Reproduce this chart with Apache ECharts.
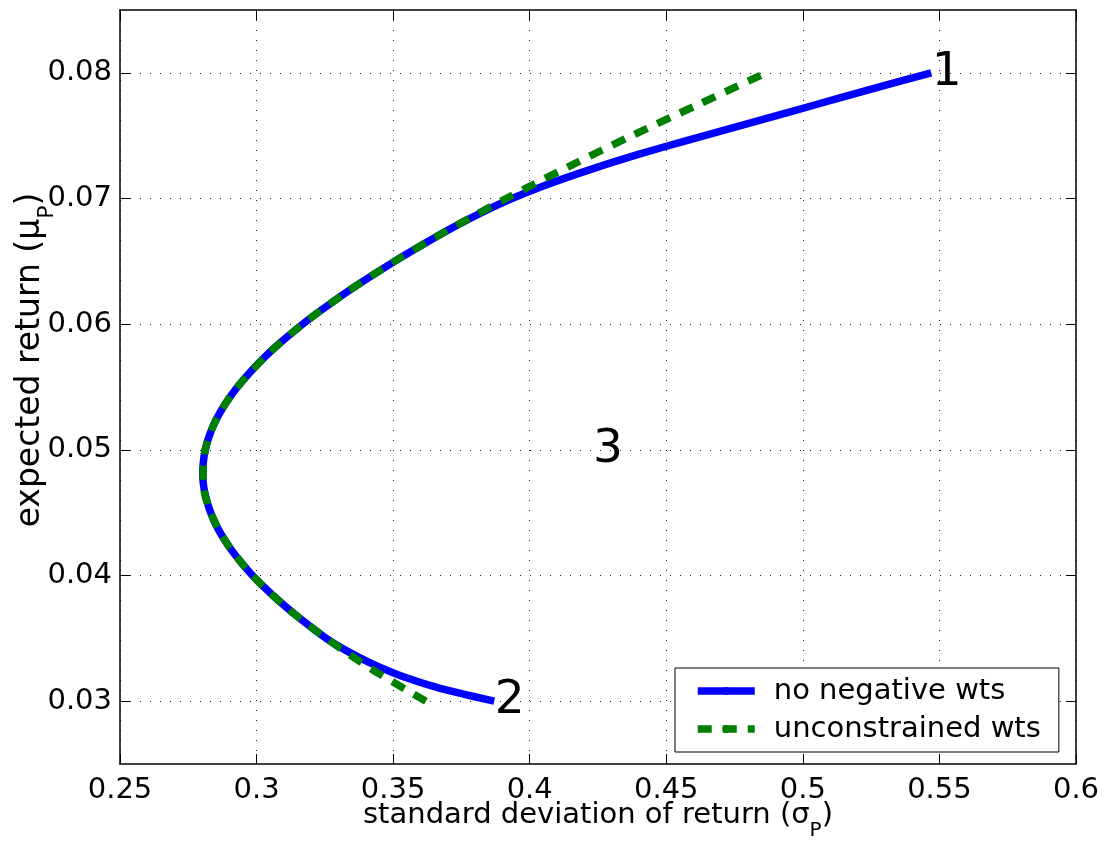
<!DOCTYPE html>
<html>
<head>
<meta charset="utf-8">
<title>Efficient frontier</title>
<script src="https://cdn.jsdelivr.net/npm/echarts@6/dist/echarts.min.js"></script>
<style>
  html, body { margin: 0; padding: 0; background: #ffffff; }
  #chart { width: 1102px; height: 841px; }
</style>
</head>
<body>
<div id="chart"></div>
<script>
// Efficient frontier: expected return against standard deviation of return

// Axis ranges and tick positions
const xMin = 0.25, xMax = 0.6, xStep = 0.05;
const yMin = 0.025, yMax = 0.085;
const yTicks = [0.03, 0.04, 0.05, 0.06, 0.07, 0.08];

// Frontier with no negative weights (expected return, standard deviation)
const noNegMu = [
  0.030, 0.031, 0.032, 0.033, 0.034, 0.035, 0.036, 0.037, 0.038, 0.039,
  0.040, 0.041, 0.042, 0.043, 0.044, 0.045, 0.046, 0.047, 0.048, 0.049,
  0.050, 0.051, 0.052, 0.053, 0.054, 0.055, 0.056, 0.057, 0.058, 0.059,
  0.060, 0.061, 0.062, 0.063, 0.064, 0.065, 0.066, 0.067, 0.068, 0.069,
  0.070, 0.071, 0.072, 0.073, 0.074, 0.075, 0.076, 0.077, 0.078, 0.079,
  0.080
];
const noNegSigma = [
  0.387, 0.3675, 0.353, 0.342, 0.333, 0.3255, 0.3193, 0.3135, 0.3081, 0.3031,
  0.2985, 0.2945, 0.2909, 0.2878, 0.2852, 0.2832, 0.2817, 0.2807, 0.2803, 0.2805,
  0.2812, 0.2825, 0.2843, 0.2867, 0.2896, 0.2930, 0.2969, 0.3012, 0.3060, 0.3113,
  0.3169, 0.3230, 0.3294, 0.3361, 0.3432, 0.3505, 0.3582, 0.3661, 0.3745, 0.3835,
  0.3935, 0.405, 0.418, 0.432, 0.4475, 0.464, 0.4805, 0.497, 0.5135, 0.530,
  0.547
];

// Frontier with unconstrained weights
const uncMu = [
  0.030, 0.0325, 0.035, 0.0375, 0.040, 0.0425, 0.045, 0.0475, 0.050, 0.0525,
  0.055, 0.0575, 0.060, 0.0625, 0.065, 0.0675, 0.070, 0.0725, 0.075, 0.0775,
  0.080
];
const uncSigma = [
  0.362, 0.3425, 0.3255, 0.3107, 0.2985, 0.2893, 0.2832, 0.2804, 0.2812, 0.2854,
  0.2930, 0.3036, 0.3169, 0.3327, 0.3505, 0.3702, 0.3914, 0.4139, 0.4374, 0.4619,
  0.4865
];

// Numbered annotations
const markNames = ['1', '2', '3'];
const markSigma = [0.547, 0.387, 0.423];
const markMu = [0.080, 0.030, 0.050];

const seriesNames = ['no negative wts', 'unconstrained wts'];

const FONT = 'DejaVu Sans';
const zip = (xs, ys) => xs.map((x, i) => [x, ys[i]]);

const chart = echarts.init(document.getElementById('chart'), null, { renderer: 'canvas' });

const xNameRich = {
  t: { fontSize: 29, lineHeight: 40, verticalAlign: 'top', fontFamily: FONT, color: '#000' },
  s: { fontSize: 20, lineHeight: 20, verticalAlign: 'bottom', fontFamily: FONT, color: '#000' }
};
const yNameRich = {
  t: { fontSize: 33, lineHeight: 44, verticalAlign: 'top', fontFamily: FONT, color: '#000' },
  s: { fontSize: 22, lineHeight: 22, verticalAlign: 'bottom', fontFamily: FONT, color: '#000' }
};

const dotted = { color: '#222', width: 1, type: [1, 9] };
const frame = { show: true, onZero: false, lineStyle: { color: '#000', width: 1.5 } };
const tickIn = { show: true, inside: true, length: 10, lineStyle: { color: '#000', width: 1 } };

const option = {
  backgroundColor: '#ffffff',
  animation: false,
  grid: { left: 120, right: 26, top: 10, bottom: 77, containLabel: false, outerBoundsMode: 'none' },
  xAxis: [
    {
      type: 'value', position: 'bottom', min: xMin, max: xMax, interval: xStep,
      axisLine: frame, axisTick: tickIn,
      axisLabel: { margin: 12, fontSize: 29, fontFamily: FONT, color: '#000' },
      splitLine: { show: true, lineStyle: dotted },
      name: '{t|standard deviation of return (σ}{s|P}{t|)}',
      nameLocation: 'middle', nameGap: 37, nameMoveOverlap: false,
      nameTextStyle: { rich: xNameRich }
    },
    {
      type: 'value', position: 'top', min: xMin, max: xMax, interval: xStep,
      axisLine: frame, axisTick: tickIn,
      axisLabel: { show: false }, splitLine: { show: false }
    }
  ],
  yAxis: [
    {
      type: 'value', position: 'left', min: yMin, max: yMax,
      axisLine: frame,
      axisTick: Object.assign({}, tickIn, { customValues: yTicks }),
      axisLabel: { customValues: yTicks, margin: 8, fontSize: 29, fontFamily: FONT, color: '#000' },
      splitLine: { show: true, lineStyle: dotted },
      name: '{t|expected return (μ}{s|P}{t|)}',
      nameLocation: 'middle', nameGap: 62, nameRotate: 90, nameMoveOverlap: false,
      nameTextStyle: { rich: yNameRich, padding: [0, 0, 0, 54] }
    },
    {
      type: 'value', position: 'right', min: yMin, max: yMax,
      axisLine: frame,
      axisTick: Object.assign({}, tickIn, { customValues: yTicks }),
      axisLabel: { show: false, customValues: yTicks }, splitLine: { show: false }
    }
  ],
  legend: {
    left: 675, top: 668, orient: 'vertical',
    padding: [8, 18, 8, 19],
    itemWidth: 57, itemHeight: 10, itemGap: 8,
    borderColor: '#000', borderWidth: 1, borderRadius: 0, backgroundColor: '#fff',
    lineStyle: { width: 7.5 },
    textStyle: { fontSize: 29, fontFamily: FONT, color: '#000', lineHeight: 30, padding: [0, 0, 0, 14] },
    data: seriesNames
  },
  series: [
    {
      name: seriesNames[0], type: 'line', xAxisIndex: 0, yAxisIndex: 0,
      data: zip(noNegSigma, noNegMu), symbol: 'none', smooth: 0.2,
      lineStyle: { color: '#0000ff', width: 7.5, cap: 'butt', join: 'round' },
      itemStyle: { color: '#0000ff' }, z: 2
    },
    {
      name: seriesNames[1], type: 'line', xAxisIndex: 0, yAxisIndex: 0,
      data: zip(uncSigma, uncMu), symbol: 'none', smooth: 0.3,
      lineStyle: { color: '#008000', width: 7.5, type: [14, 11], cap: 'butt' },
      itemStyle: { color: '#008000' }, z: 3
    },
    {
      name: 'marks', type: 'scatter', xAxisIndex: 0, yAxisIndex: 0,
      data: markSigma.map((s, i) => [s, markMu[i], markNames[i]]),
      symbolSize: 1, silent: true, z: 4,
      itemStyle: { color: 'rgba(0,0,0,0)', opacity: 1 },
      label: {
        show: true, position: 'right', distance: 0,
        formatter: p => p.value[2],
        fontSize: 47, fontFamily: FONT, color: '#000000', opacity: 1,
        textBorderWidth: 0
      }
    }
  ]
};

chart.setOption(option);
</script>
</body>
</html>
